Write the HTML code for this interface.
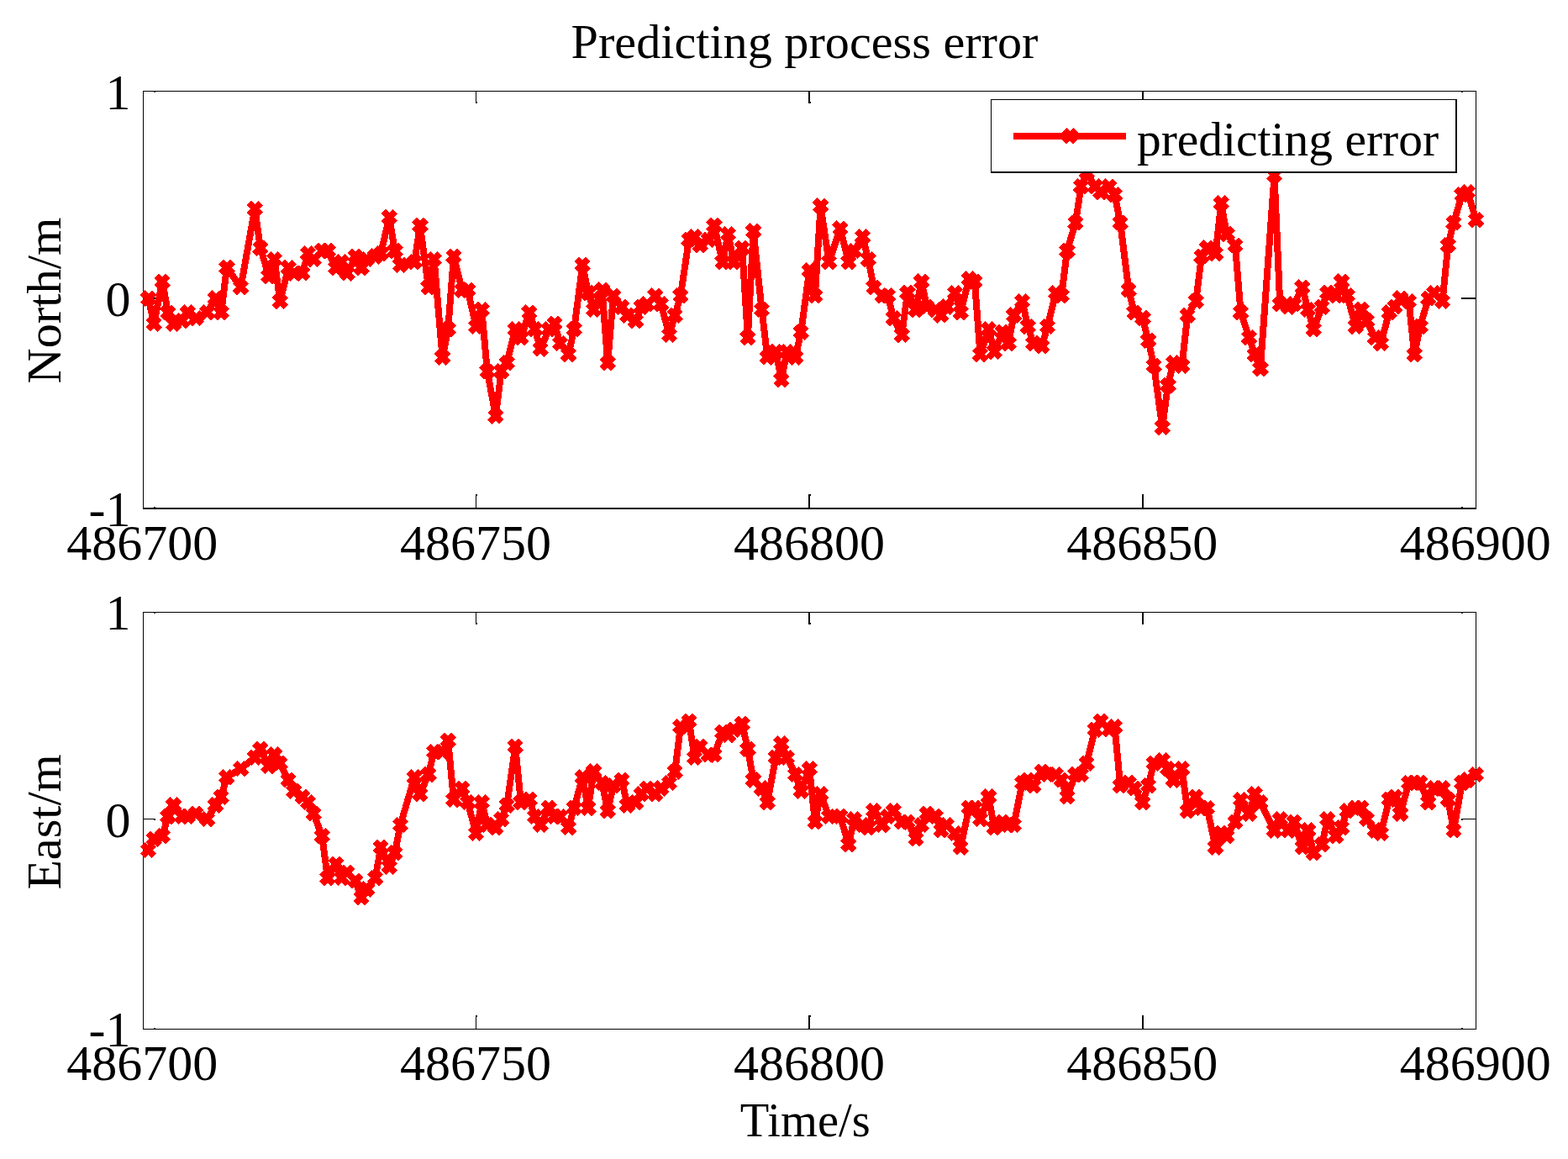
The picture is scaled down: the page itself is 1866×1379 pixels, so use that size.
<!DOCTYPE html>
<html lang="en">
<head>
<meta charset="utf-8">
<title>Predicting process error</title>
<style>
html,body{margin:0;padding:0;background:#fff;}
body{width:1866px;height:1379px;overflow:hidden;}
svg{display:block;}
text{font-family:"Liberation Serif",serif;fill:#000;}
.ax rect{fill:#000;}
.ln{fill:none;stroke:#f00;stroke-width:8;stroke-linejoin:round;stroke-linecap:butt;shape-rendering:crispEdges;}
.mk{fill:none;stroke:#f00;stroke-width:8;stroke-linecap:butt;shape-rendering:crispEdges;}
.lg rect{fill:#000;}
</style>
</head>
<body>
<svg width="1866" height="1379" viewBox="0 0 1866 1379" role="img" aria-label="Predicting process error: North and East error versus time">
<rect x="0" y="0" width="1866" height="1379" fill="#fff"/>

<text font-size="58" textLength="555.85" lengthAdjust="spacingAndGlyphs" x="679.6" y="69">Predicting process error</text>
<g id="axes-north">
<g class="ax" shape-rendering="crispEdges">
<rect x="170" y="108" width="1587" height="1"/>
<rect x="170" y="604" width="1587" height="2"/>
<rect x="170" y="108" width="1" height="498"/>
<rect x="1756" y="108" width="1" height="498"/>
<rect x="566" y="588" width="1" height="16"/>
<rect x="566" y="588" width="2" height="2"/>
<rect x="566" y="109" width="1" height="14"/>
<rect x="566" y="121" width="2" height="2"/>
<rect x="962" y="588" width="2" height="16"/>
<rect x="962" y="588" width="3" height="2"/>
<rect x="962" y="109" width="2" height="14"/>
<rect x="962" y="121" width="3" height="2"/>
<rect x="1359" y="588" width="2" height="16"/>
<rect x="1359" y="588" width="2" height="2"/>
<rect x="1359" y="109" width="2" height="14"/>
<rect x="1359" y="121" width="2" height="2"/>
<rect x="171" y="354" width="14" height="2"/>
<rect x="183" y="354" width="2" height="2"/>
<rect x="1739" y="354" width="17" height="2"/>
<rect x="1739" y="354" width="2" height="2"/>
<rect x="183" y="109" width="2" height="1"/>
<rect x="183" y="603" width="2" height="1"/>
<rect x="1739" y="109" width="2" height="1"/>
<rect x="1739" y="603" width="2" height="1"/>
</g>
<text font-size="60" text-anchor="middle" x="169.2" y="666">486700</text>
<text font-size="60" text-anchor="middle" x="566.1" y="666">486750</text>
<text font-size="60" text-anchor="middle" x="963.1" y="666">486800</text>
<text font-size="60" text-anchor="middle" x="1359.2" y="666">486850</text>
<text font-size="60" text-anchor="middle" x="1755.7" y="666">486900</text>
<text font-size="60" text-anchor="end" x="155.5" y="130">1</text>
<text font-size="60" text-anchor="end" x="155.5" y="376">0</text>
<text font-size="60" text-anchor="end" x="155.5" y="626">-1</text>
<text font-size="58" textLength="197.9" lengthAdjust="spacingAndGlyphs" transform="translate(72 456.5) rotate(-90)">North/m</text>
<g id="series-north"><path class="ln" d="M176.55 355.13 L183.22 385.13 L193.22 335.13 L199.89 371.8 L206.55 385.13 L216.55 381.8 L223.22 371.8 L233.22 378.47 L246.55 371.8 L256.55 355.13 L263.22 371.8 L269.89 318.47 L286.55 341.8 L303.22 248.47 L309.89 295.13 L319.89 328.47 L326.55 308.47 L333.22 358.47 L343.22 318.47 L349.89 325.13 L359.89 325.13 L366.55 301.8 L373.22 308.47 L383.22 298.47 L389.89 298.47 L399.89 318.47 L406.55 311.8 L413.22 325.13 L423.22 305.13 L429.89 318.47 L436.55 308.47 L446.55 305.13 L453.22 301.8 L463.22 258.47 L469.89 298.47 L476.55 315.13 L493.22 311.8 L499.89 268.47 L509.89 341.8 L516.55 308.47 L526.55 425.13 L533.22 391.8 L539.89 305.13 L549.89 345.13 L556.55 345.13 L566.55 388.47 L573.22 368.47 L579.89 441.8 L589.89 495.13 L596.55 441.8 L603.22 431.8 L613.22 391.8 L619.89 401.8 L629.89 371.8 L636.55 391.8 L643.22 415.13 L653.22 391.8 L659.89 385.13 L666.55 408.47 L676.55 421.8 L683.22 391.8 L693.22 315.13 L699.89 348.47 L706.55 368.47 L716.55 345.13 L723.22 431.8 L729.89 351.8 L739.89 365.13 L746.55 375.13 L756.55 381.8 L763.22 365.13 L769.89 361.8 L779.89 351.8 L786.55 361.8 L796.55 398.47 L803.22 375.13 L809.89 351.8 L819.89 285.13 L826.55 281.8 L833.22 291.8 L843.22 285.13 L849.89 268.47 L859.89 311.8 L866.55 278.47 L873.22 311.8 L883.22 295.13 L889.89 401.8 L896.55 275.13 L906.55 368.47 L913.22 425.13 L923.22 418.47 L929.89 451.8 L936.55 418.47 L946.55 425.13 L953.22 395.13 L963.22 321.8 L969.89 351.8 L976.55 245.13 L986.55 311.8 L999.89 271.8 L1009.89 311.8 L1016.55 298.47 L1026.55 281.8 L1033.22 308.47 L1039.89 341.8 L1049.89 351.8 L1056.55 351.8 L1063.22 378.47 L1073.22 398.47 L1079.89 348.47 L1089.89 368.47 L1096.55 335.13 L1103.22 365.13 L1113.22 368.47 L1119.89 375.13 L1126.55 365.13 L1136.55 348.47 L1143.22 371.8 L1153.22 331.8 L1159.89 335.13 L1166.55 421.8 L1176.55 391.8 L1183.22 418.47 L1193.22 395.13 L1199.89 408.47 L1206.55 375.13 L1216.55 358.47 L1223.22 388.47 L1229.89 408.47 L1239.89 411.8 L1246.55 388.47 L1256.55 348.47 L1263.22 351.8 L1269.89 298.47 L1279.89 265.13 L1286.55 221.8 L1293.22 205.1 L1303.22 221.8 L1309.89 228.47 L1319.89 221.8 L1326.55 231.8 L1333.22 265.13 L1343.22 345.13 L1349.89 371.8 L1359.89 378.47 L1366.55 405.13 L1373.22 435.13 L1383.22 508.47 L1389.89 458.47 L1396.55 431.8 L1406.55 435.13 L1413.22 375.13 L1423.22 358.47 L1429.89 305.13 L1436.55 295.13 L1446.55 301.8 L1453.22 241.8 L1459.89 278.47 L1469.89 291.8 L1476.55 371.8 L1486.55 401.8 L1493.22 421.8 L1499.89 438.47 L1516.55 208.47 L1523.22 361.8 L1533.22 365.13 L1539.89 361.8 L1549.89 341.8 L1556.55 368.47 L1563.22 391.8 L1573.22 365.13 L1579.89 348.47 L1589.89 351.8 L1596.55 335.13 L1603.22 351.8 L1613.22 388.47 L1619.89 368.47 L1626.55 381.8 L1636.55 401.8 L1643.22 408.47 L1653.22 371.8 L1659.89 365.13 L1666.55 355.13 L1676.55 358.47 L1683.22 421.8 L1689.89 388.47 L1699.89 355.13 L1706.55 348.47 L1716.55 358.47 L1723.22 291.8 L1729.89 265.13 L1739.89 231.8 L1746.55 228.47 L1756.55 261.8"/>
<path class="mk" d="M169.65 348.23l13.8 13.8M169.65 362.03l13.8 -13.8M176.32 378.23l13.8 13.8M176.32 392.03l13.8 -13.8M186.32 328.23l13.8 13.8M186.32 342.03l13.8 -13.8M192.99 364.9l13.8 13.8M192.99 378.7l13.8 -13.8M199.65 378.23l13.8 13.8M199.65 392.03l13.8 -13.8M209.65 374.9l13.8 13.8M209.65 388.7l13.8 -13.8M216.32 364.9l13.8 13.8M216.32 378.7l13.8 -13.8M226.32 371.57l13.8 13.8M226.32 385.37l13.8 -13.8M239.65 364.9l13.8 13.8M239.65 378.7l13.8 -13.8M249.65 348.23l13.8 13.8M249.65 362.03l13.8 -13.8M256.32 364.9l13.8 13.8M256.32 378.7l13.8 -13.8M262.99 311.57l13.8 13.8M262.99 325.37l13.8 -13.8M279.65 334.9l13.8 13.8M279.65 348.7l13.8 -13.8M296.32 241.57l13.8 13.8M296.32 255.37l13.8 -13.8M302.99 288.23l13.8 13.8M302.99 302.03l13.8 -13.8M312.99 321.57l13.8 13.8M312.99 335.37l13.8 -13.8M319.65 301.57l13.8 13.8M319.65 315.37l13.8 -13.8M326.32 351.57l13.8 13.8M326.32 365.37l13.8 -13.8M336.32 311.57l13.8 13.8M336.32 325.37l13.8 -13.8M342.99 318.23l13.8 13.8M342.99 332.03l13.8 -13.8M352.99 318.23l13.8 13.8M352.99 332.03l13.8 -13.8M359.65 294.9l13.8 13.8M359.65 308.7l13.8 -13.8M366.32 301.57l13.8 13.8M366.32 315.37l13.8 -13.8M376.32 291.57l13.8 13.8M376.32 305.37l13.8 -13.8M382.99 291.57l13.8 13.8M382.99 305.37l13.8 -13.8M392.99 311.57l13.8 13.8M392.99 325.37l13.8 -13.8M399.65 304.9l13.8 13.8M399.65 318.7l13.8 -13.8M406.32 318.23l13.8 13.8M406.32 332.03l13.8 -13.8M416.32 298.23l13.8 13.8M416.32 312.03l13.8 -13.8M422.99 311.57l13.8 13.8M422.99 325.37l13.8 -13.8M429.65 301.57l13.8 13.8M429.65 315.37l13.8 -13.8M439.65 298.23l13.8 13.8M439.65 312.03l13.8 -13.8M446.32 294.9l13.8 13.8M446.32 308.7l13.8 -13.8M456.32 251.57l13.8 13.8M456.32 265.37l13.8 -13.8M462.99 291.57l13.8 13.8M462.99 305.37l13.8 -13.8M469.65 308.23l13.8 13.8M469.65 322.03l13.8 -13.8M486.32 304.9l13.8 13.8M486.32 318.7l13.8 -13.8M492.99 261.57l13.8 13.8M492.99 275.37l13.8 -13.8M502.99 334.9l13.8 13.8M502.99 348.7l13.8 -13.8M509.65 301.57l13.8 13.8M509.65 315.37l13.8 -13.8M519.65 418.23l13.8 13.8M519.65 432.03l13.8 -13.8M526.32 384.9l13.8 13.8M526.32 398.7l13.8 -13.8M532.99 298.23l13.8 13.8M532.99 312.03l13.8 -13.8M542.99 338.23l13.8 13.8M542.99 352.03l13.8 -13.8M549.65 338.23l13.8 13.8M549.65 352.03l13.8 -13.8M559.65 381.57l13.8 13.8M559.65 395.37l13.8 -13.8M566.32 361.57l13.8 13.8M566.32 375.37l13.8 -13.8M572.99 434.9l13.8 13.8M572.99 448.7l13.8 -13.8M582.99 488.23l13.8 13.8M582.99 502.03l13.8 -13.8M589.65 434.9l13.8 13.8M589.65 448.7l13.8 -13.8M596.32 424.9l13.8 13.8M596.32 438.7l13.8 -13.8M606.32 384.9l13.8 13.8M606.32 398.7l13.8 -13.8M612.99 394.9l13.8 13.8M612.99 408.7l13.8 -13.8M622.99 364.9l13.8 13.8M622.99 378.7l13.8 -13.8M629.65 384.9l13.8 13.8M629.65 398.7l13.8 -13.8M636.32 408.23l13.8 13.8M636.32 422.03l13.8 -13.8M646.32 384.9l13.8 13.8M646.32 398.7l13.8 -13.8M652.99 378.23l13.8 13.8M652.99 392.03l13.8 -13.8M659.65 401.57l13.8 13.8M659.65 415.37l13.8 -13.8M669.65 414.9l13.8 13.8M669.65 428.7l13.8 -13.8M676.32 384.9l13.8 13.8M676.32 398.7l13.8 -13.8M686.32 308.23l13.8 13.8M686.32 322.03l13.8 -13.8M692.99 341.57l13.8 13.8M692.99 355.37l13.8 -13.8M699.65 361.57l13.8 13.8M699.65 375.37l13.8 -13.8M709.65 338.23l13.8 13.8M709.65 352.03l13.8 -13.8M716.32 424.9l13.8 13.8M716.32 438.7l13.8 -13.8M722.99 344.9l13.8 13.8M722.99 358.7l13.8 -13.8M732.99 358.23l13.8 13.8M732.99 372.03l13.8 -13.8M739.65 368.23l13.8 13.8M739.65 382.03l13.8 -13.8M749.65 374.9l13.8 13.8M749.65 388.7l13.8 -13.8M756.32 358.23l13.8 13.8M756.32 372.03l13.8 -13.8M762.99 354.9l13.8 13.8M762.99 368.7l13.8 -13.8M772.99 344.9l13.8 13.8M772.99 358.7l13.8 -13.8M779.65 354.9l13.8 13.8M779.65 368.7l13.8 -13.8M789.65 391.57l13.8 13.8M789.65 405.37l13.8 -13.8M796.32 368.23l13.8 13.8M796.32 382.03l13.8 -13.8M802.99 344.9l13.8 13.8M802.99 358.7l13.8 -13.8M812.99 278.23l13.8 13.8M812.99 292.03l13.8 -13.8M819.65 274.9l13.8 13.8M819.65 288.7l13.8 -13.8M826.32 284.9l13.8 13.8M826.32 298.7l13.8 -13.8M836.32 278.23l13.8 13.8M836.32 292.03l13.8 -13.8M842.99 261.57l13.8 13.8M842.99 275.37l13.8 -13.8M852.99 304.9l13.8 13.8M852.99 318.7l13.8 -13.8M859.65 271.57l13.8 13.8M859.65 285.37l13.8 -13.8M866.32 304.9l13.8 13.8M866.32 318.7l13.8 -13.8M876.32 288.23l13.8 13.8M876.32 302.03l13.8 -13.8M882.99 394.9l13.8 13.8M882.99 408.7l13.8 -13.8M889.65 268.23l13.8 13.8M889.65 282.03l13.8 -13.8M899.65 361.57l13.8 13.8M899.65 375.37l13.8 -13.8M906.32 418.23l13.8 13.8M906.32 432.03l13.8 -13.8M916.32 411.57l13.8 13.8M916.32 425.37l13.8 -13.8M922.99 444.9l13.8 13.8M922.99 458.7l13.8 -13.8M929.65 411.57l13.8 13.8M929.65 425.37l13.8 -13.8M939.65 418.23l13.8 13.8M939.65 432.03l13.8 -13.8M946.32 388.23l13.8 13.8M946.32 402.03l13.8 -13.8M956.32 314.9l13.8 13.8M956.32 328.7l13.8 -13.8M962.99 344.9l13.8 13.8M962.99 358.7l13.8 -13.8M969.65 238.23l13.8 13.8M969.65 252.03l13.8 -13.8M979.65 304.9l13.8 13.8M979.65 318.7l13.8 -13.8M992.99 264.9l13.8 13.8M992.99 278.7l13.8 -13.8M1002.99 304.9l13.8 13.8M1002.99 318.7l13.8 -13.8M1009.65 291.57l13.8 13.8M1009.65 305.37l13.8 -13.8M1019.65 274.9l13.8 13.8M1019.65 288.7l13.8 -13.8M1026.32 301.57l13.8 13.8M1026.32 315.37l13.8 -13.8M1032.99 334.9l13.8 13.8M1032.99 348.7l13.8 -13.8M1042.99 344.9l13.8 13.8M1042.99 358.7l13.8 -13.8M1049.65 344.9l13.8 13.8M1049.65 358.7l13.8 -13.8M1056.32 371.57l13.8 13.8M1056.32 385.37l13.8 -13.8M1066.32 391.57l13.8 13.8M1066.32 405.37l13.8 -13.8M1072.99 341.57l13.8 13.8M1072.99 355.37l13.8 -13.8M1082.99 361.57l13.8 13.8M1082.99 375.37l13.8 -13.8M1089.65 328.23l13.8 13.8M1089.65 342.03l13.8 -13.8M1096.32 358.23l13.8 13.8M1096.32 372.03l13.8 -13.8M1106.32 361.57l13.8 13.8M1106.32 375.37l13.8 -13.8M1112.99 368.23l13.8 13.8M1112.99 382.03l13.8 -13.8M1119.65 358.23l13.8 13.8M1119.65 372.03l13.8 -13.8M1129.65 341.57l13.8 13.8M1129.65 355.37l13.8 -13.8M1136.32 364.9l13.8 13.8M1136.32 378.7l13.8 -13.8M1146.32 324.9l13.8 13.8M1146.32 338.7l13.8 -13.8M1152.99 328.23l13.8 13.8M1152.99 342.03l13.8 -13.8M1159.65 414.9l13.8 13.8M1159.65 428.7l13.8 -13.8M1169.65 384.9l13.8 13.8M1169.65 398.7l13.8 -13.8M1176.32 411.57l13.8 13.8M1176.32 425.37l13.8 -13.8M1186.32 388.23l13.8 13.8M1186.32 402.03l13.8 -13.8M1192.99 401.57l13.8 13.8M1192.99 415.37l13.8 -13.8M1199.65 368.23l13.8 13.8M1199.65 382.03l13.8 -13.8M1209.65 351.57l13.8 13.8M1209.65 365.37l13.8 -13.8M1216.32 381.57l13.8 13.8M1216.32 395.37l13.8 -13.8M1222.99 401.57l13.8 13.8M1222.99 415.37l13.8 -13.8M1232.99 404.9l13.8 13.8M1232.99 418.7l13.8 -13.8M1239.65 381.57l13.8 13.8M1239.65 395.37l13.8 -13.8M1249.65 341.57l13.8 13.8M1249.65 355.37l13.8 -13.8M1256.32 344.9l13.8 13.8M1256.32 358.7l13.8 -13.8M1262.99 291.57l13.8 13.8M1262.99 305.37l13.8 -13.8M1272.99 258.23l13.8 13.8M1272.99 272.03l13.8 -13.8M1279.65 214.9l13.8 13.8M1279.65 228.7l13.8 -13.8M1286.32 198.2l13.8 13.8M1286.32 212l13.8 -13.8M1296.32 214.9l13.8 13.8M1296.32 228.7l13.8 -13.8M1302.99 221.57l13.8 13.8M1302.99 235.37l13.8 -13.8M1312.99 214.9l13.8 13.8M1312.99 228.7l13.8 -13.8M1319.65 224.9l13.8 13.8M1319.65 238.7l13.8 -13.8M1326.32 258.23l13.8 13.8M1326.32 272.03l13.8 -13.8M1336.32 338.23l13.8 13.8M1336.32 352.03l13.8 -13.8M1342.99 364.9l13.8 13.8M1342.99 378.7l13.8 -13.8M1352.99 371.57l13.8 13.8M1352.99 385.37l13.8 -13.8M1359.65 398.23l13.8 13.8M1359.65 412.03l13.8 -13.8M1366.32 428.23l13.8 13.8M1366.32 442.03l13.8 -13.8M1376.32 501.57l13.8 13.8M1376.32 515.37l13.8 -13.8M1382.99 451.57l13.8 13.8M1382.99 465.37l13.8 -13.8M1389.65 424.9l13.8 13.8M1389.65 438.7l13.8 -13.8M1399.65 428.23l13.8 13.8M1399.65 442.03l13.8 -13.8M1406.32 368.23l13.8 13.8M1406.32 382.03l13.8 -13.8M1416.32 351.57l13.8 13.8M1416.32 365.37l13.8 -13.8M1422.99 298.23l13.8 13.8M1422.99 312.03l13.8 -13.8M1429.65 288.23l13.8 13.8M1429.65 302.03l13.8 -13.8M1439.65 294.9l13.8 13.8M1439.65 308.7l13.8 -13.8M1446.32 234.9l13.8 13.8M1446.32 248.7l13.8 -13.8M1452.99 271.57l13.8 13.8M1452.99 285.37l13.8 -13.8M1462.99 284.9l13.8 13.8M1462.99 298.7l13.8 -13.8M1469.65 364.9l13.8 13.8M1469.65 378.7l13.8 -13.8M1479.65 394.9l13.8 13.8M1479.65 408.7l13.8 -13.8M1486.32 414.9l13.8 13.8M1486.32 428.7l13.8 -13.8M1492.99 431.57l13.8 13.8M1492.99 445.37l13.8 -13.8M1509.65 201.57l13.8 13.8M1509.65 215.37l13.8 -13.8M1516.32 354.9l13.8 13.8M1516.32 368.7l13.8 -13.8M1526.32 358.23l13.8 13.8M1526.32 372.03l13.8 -13.8M1532.99 354.9l13.8 13.8M1532.99 368.7l13.8 -13.8M1542.99 334.9l13.8 13.8M1542.99 348.7l13.8 -13.8M1549.65 361.57l13.8 13.8M1549.65 375.37l13.8 -13.8M1556.32 384.9l13.8 13.8M1556.32 398.7l13.8 -13.8M1566.32 358.23l13.8 13.8M1566.32 372.03l13.8 -13.8M1572.99 341.57l13.8 13.8M1572.99 355.37l13.8 -13.8M1582.99 344.9l13.8 13.8M1582.99 358.7l13.8 -13.8M1589.65 328.23l13.8 13.8M1589.65 342.03l13.8 -13.8M1596.32 344.9l13.8 13.8M1596.32 358.7l13.8 -13.8M1606.32 381.57l13.8 13.8M1606.32 395.37l13.8 -13.8M1612.99 361.57l13.8 13.8M1612.99 375.37l13.8 -13.8M1619.65 374.9l13.8 13.8M1619.65 388.7l13.8 -13.8M1629.65 394.9l13.8 13.8M1629.65 408.7l13.8 -13.8M1636.32 401.57l13.8 13.8M1636.32 415.37l13.8 -13.8M1646.32 364.9l13.8 13.8M1646.32 378.7l13.8 -13.8M1652.99 358.23l13.8 13.8M1652.99 372.03l13.8 -13.8M1659.65 348.23l13.8 13.8M1659.65 362.03l13.8 -13.8M1669.65 351.57l13.8 13.8M1669.65 365.37l13.8 -13.8M1676.32 414.9l13.8 13.8M1676.32 428.7l13.8 -13.8M1682.99 381.57l13.8 13.8M1682.99 395.37l13.8 -13.8M1692.99 348.23l13.8 13.8M1692.99 362.03l13.8 -13.8M1699.65 341.57l13.8 13.8M1699.65 355.37l13.8 -13.8M1709.65 351.57l13.8 13.8M1709.65 365.37l13.8 -13.8M1716.32 284.9l13.8 13.8M1716.32 298.7l13.8 -13.8M1722.99 258.23l13.8 13.8M1722.99 272.03l13.8 -13.8M1732.99 224.9l13.8 13.8M1732.99 238.7l13.8 -13.8M1739.65 221.57l13.8 13.8M1739.65 235.37l13.8 -13.8M1749.65 254.9l13.8 13.8M1749.65 268.7l13.8 -13.8"/></g>
</g>
<g id="legend">
<rect x="1179" y="118" width="555" height="88" fill="#fff"/>
<g class="lg" shape-rendering="crispEdges"><rect x="1179" y="118" width="555" height="1"/><rect x="1179" y="118" width="1" height="88"/><rect x="1179" y="204" width="555" height="2"/><rect x="1732" y="118" width="2" height="88"/></g>
<path class="ln" d="M1206 162H1340"/>
<path class="mk" d="M1266.3 154.9l13.8 13.8M1266.3 168.7l13.8 -13.8"/>
<text font-size="58" textLength="359.3" lengthAdjust="spacingAndGlyphs" x="1352.9" y="185.4">predicting error</text>
</g>
<g id="axes-east">
<g class="ax" shape-rendering="crispEdges">
<rect x="170" y="728" width="1587" height="1"/>
<rect x="170" y="1224" width="1587" height="1"/>
<rect x="170" y="728" width="1" height="497"/>
<rect x="1756" y="728" width="1" height="497"/>
<rect x="566" y="1208" width="1" height="16"/>
<rect x="566" y="1208" width="2" height="2"/>
<rect x="566" y="729" width="1" height="14"/>
<rect x="566" y="741" width="2" height="2"/>
<rect x="962" y="1208" width="2" height="16"/>
<rect x="962" y="1208" width="3" height="2"/>
<rect x="962" y="729" width="2" height="14"/>
<rect x="962" y="741" width="3" height="2"/>
<rect x="1359" y="1208" width="2" height="16"/>
<rect x="1359" y="1208" width="2" height="2"/>
<rect x="1359" y="729" width="2" height="14"/>
<rect x="1359" y="741" width="2" height="2"/>
<rect x="171" y="974" width="14" height="1"/>
<rect x="183" y="974" width="2" height="2"/>
<rect x="1739" y="974" width="17" height="1"/>
<rect x="1739" y="974" width="2" height="2"/>
<rect x="183" y="729" width="2" height="1"/>
<rect x="183" y="1223" width="2" height="1"/>
<rect x="1739" y="729" width="2" height="1"/>
<rect x="1739" y="1223" width="2" height="1"/>
</g>
<text font-size="60" text-anchor="middle" x="169.2" y="1285">486700</text>
<text font-size="60" text-anchor="middle" x="566.1" y="1285">486750</text>
<text font-size="60" text-anchor="middle" x="963.1" y="1285">486800</text>
<text font-size="60" text-anchor="middle" x="1359.2" y="1285">486850</text>
<text font-size="60" text-anchor="middle" x="1755.7" y="1285">486900</text>
<text font-size="60" text-anchor="end" x="155.5" y="749">1</text>
<text font-size="60" text-anchor="end" x="155.5" y="996">0</text>
<text font-size="60" text-anchor="end" x="155.5" y="1245">-1</text>
<text font-size="58" textLength="161.3" lengthAdjust="spacingAndGlyphs" transform="translate(72 1058.6) rotate(-90)">East/m</text>
<g id="series-east"><path class="ln" d="M176.55 1011.4 L183.22 998.07 L193.22 994.73 L199.89 971.4 L206.55 958.07 L216.55 971.4 L223.22 971.4 L233.22 968.07 L246.55 974.73 L256.55 958.07 L263.22 948.07 L269.89 924.73 L286.55 914.73 L303.22 901.4 L309.89 891.4 L319.89 911.4 L326.55 898.07 L333.22 908.07 L343.22 928.07 L349.89 941.4 L359.89 948.07 L366.55 954.73 L373.22 968.07 L383.22 994.73 L389.89 1044.73 L399.89 1028.07 L406.55 1044.73 L413.22 1038.07 L423.22 1048.07 L429.89 1068.07 L436.55 1058.07 L446.55 1044.73 L453.22 1008.07 L463.22 1031.4 L469.89 1014.73 L476.55 981.4 L493.22 924.73 L499.89 944.73 L509.89 921.4 L516.55 894.73 L526.55 894.73 L533.22 881.4 L539.89 951.4 L549.89 938.07 L556.55 954.73 L566.55 991.4 L573.22 954.73 L579.89 981.4 L589.89 984.73 L596.55 974.73 L603.22 958.07 L613.22 888.07 L619.89 954.73 L629.89 951.4 L636.55 971.4 L643.22 981.4 L653.22 961.4 L659.89 971.4 L666.55 971.4 L676.55 984.73 L683.22 961.4 L693.22 924.73 L699.89 961.4 L706.55 918.07 L716.55 931.4 L723.22 964.73 L729.89 934.73 L739.89 928.07 L746.55 958.07 L756.55 954.73 L763.22 944.73 L769.89 938.07 L779.89 944.73 L786.55 938.07 L796.55 931.4 L803.22 918.07 L809.89 864.73 L819.89 858.07 L826.55 901.4 L833.22 888.07 L843.22 898.07 L849.89 898.07 L859.89 871.4 L866.55 874.73 L873.22 868.07 L883.22 861.4 L889.89 891.4 L896.55 928.07 L906.55 938.07 L913.22 954.73 L923.22 901.4 L929.89 884.73 L936.55 901.4 L946.55 921.4 L953.22 941.4 L963.22 914.73 L969.89 978.07 L976.55 944.73 L986.55 971.4 L999.89 971.4 L1009.89 1004.73 L1016.55 974.73 L1026.55 981.4 L1033.22 984.73 L1039.89 964.73 L1049.89 981.4 L1056.55 971.4 L1063.22 964.73 L1073.22 978.07 L1079.89 978.07 L1089.89 998.07 L1096.55 981.4 L1103.22 968.07 L1113.22 971.4 L1119.89 988.07 L1126.55 981.4 L1136.55 991.4 L1143.22 1008.07 L1153.22 961.4 L1159.89 961.4 L1166.55 974.73 L1176.55 948.07 L1183.22 984.73 L1193.22 978.07 L1199.89 981.4 L1206.55 981.4 L1216.55 931.4 L1223.22 928.07 L1229.89 934.73 L1239.89 918.07 L1246.55 921.4 L1256.55 921.4 L1263.22 928.07 L1269.89 948.07 L1279.89 921.4 L1286.55 921.4 L1293.22 908.07 L1303.22 868.07 L1309.89 858.07 L1319.89 868.07 L1326.55 864.73 L1333.22 934.73 L1343.22 931.4 L1349.89 938.07 L1359.89 954.73 L1366.55 934.73 L1373.22 908.07 L1383.22 904.73 L1389.89 914.73 L1396.55 928.07 L1406.55 914.73 L1413.22 964.73 L1423.22 948.07 L1429.89 961.4 L1436.55 961.4 L1446.55 1008.07 L1453.22 991.4 L1459.89 994.73 L1469.89 978.07 L1476.55 951.4 L1486.55 968.07 L1493.22 944.73 L1499.89 954.73 L1516.55 988.07 L1523.22 974.73 L1533.22 988.07 L1539.89 978.07 L1549.89 1008.07 L1556.55 988.07 L1563.22 1014.73 L1573.22 1004.73 L1579.89 974.73 L1589.89 994.73 L1596.55 984.73 L1603.22 964.73 L1613.22 961.4 L1619.89 961.4 L1626.55 974.73 L1636.55 988.07 L1643.22 991.4 L1653.22 951.4 L1659.89 948.07 L1666.55 968.07 L1676.55 931.4 L1683.22 931.4 L1689.89 931.4 L1699.89 954.73 L1706.55 938.07 L1716.55 938.07 L1723.22 951.4 L1729.89 988.07 L1739.89 931.4 L1746.55 928.07 L1756.55 921.4"/>
<path class="mk" d="M169.65 1004.5l13.8 13.8M169.65 1018.3l13.8 -13.8M176.32 991.17l13.8 13.8M176.32 1004.97l13.8 -13.8M186.32 987.83l13.8 13.8M186.32 1001.63l13.8 -13.8M192.99 964.5l13.8 13.8M192.99 978.3l13.8 -13.8M199.65 951.17l13.8 13.8M199.65 964.97l13.8 -13.8M209.65 964.5l13.8 13.8M209.65 978.3l13.8 -13.8M216.32 964.5l13.8 13.8M216.32 978.3l13.8 -13.8M226.32 961.17l13.8 13.8M226.32 974.97l13.8 -13.8M239.65 967.83l13.8 13.8M239.65 981.63l13.8 -13.8M249.65 951.17l13.8 13.8M249.65 964.97l13.8 -13.8M256.32 941.17l13.8 13.8M256.32 954.97l13.8 -13.8M262.99 917.83l13.8 13.8M262.99 931.63l13.8 -13.8M279.65 907.83l13.8 13.8M279.65 921.63l13.8 -13.8M296.32 894.5l13.8 13.8M296.32 908.3l13.8 -13.8M302.99 884.5l13.8 13.8M302.99 898.3l13.8 -13.8M312.99 904.5l13.8 13.8M312.99 918.3l13.8 -13.8M319.65 891.17l13.8 13.8M319.65 904.97l13.8 -13.8M326.32 901.17l13.8 13.8M326.32 914.97l13.8 -13.8M336.32 921.17l13.8 13.8M336.32 934.97l13.8 -13.8M342.99 934.5l13.8 13.8M342.99 948.3l13.8 -13.8M352.99 941.17l13.8 13.8M352.99 954.97l13.8 -13.8M359.65 947.83l13.8 13.8M359.65 961.63l13.8 -13.8M366.32 961.17l13.8 13.8M366.32 974.97l13.8 -13.8M376.32 987.83l13.8 13.8M376.32 1001.63l13.8 -13.8M382.99 1037.83l13.8 13.8M382.99 1051.63l13.8 -13.8M392.99 1021.17l13.8 13.8M392.99 1034.97l13.8 -13.8M399.65 1037.83l13.8 13.8M399.65 1051.63l13.8 -13.8M406.32 1031.17l13.8 13.8M406.32 1044.97l13.8 -13.8M416.32 1041.17l13.8 13.8M416.32 1054.97l13.8 -13.8M422.99 1061.17l13.8 13.8M422.99 1074.97l13.8 -13.8M429.65 1051.17l13.8 13.8M429.65 1064.97l13.8 -13.8M439.65 1037.83l13.8 13.8M439.65 1051.63l13.8 -13.8M446.32 1001.17l13.8 13.8M446.32 1014.97l13.8 -13.8M456.32 1024.5l13.8 13.8M456.32 1038.3l13.8 -13.8M462.99 1007.83l13.8 13.8M462.99 1021.63l13.8 -13.8M469.65 974.5l13.8 13.8M469.65 988.3l13.8 -13.8M486.32 917.83l13.8 13.8M486.32 931.63l13.8 -13.8M492.99 937.83l13.8 13.8M492.99 951.63l13.8 -13.8M502.99 914.5l13.8 13.8M502.99 928.3l13.8 -13.8M509.65 887.83l13.8 13.8M509.65 901.63l13.8 -13.8M519.65 887.83l13.8 13.8M519.65 901.63l13.8 -13.8M526.32 874.5l13.8 13.8M526.32 888.3l13.8 -13.8M532.99 944.5l13.8 13.8M532.99 958.3l13.8 -13.8M542.99 931.17l13.8 13.8M542.99 944.97l13.8 -13.8M549.65 947.83l13.8 13.8M549.65 961.63l13.8 -13.8M559.65 984.5l13.8 13.8M559.65 998.3l13.8 -13.8M566.32 947.83l13.8 13.8M566.32 961.63l13.8 -13.8M572.99 974.5l13.8 13.8M572.99 988.3l13.8 -13.8M582.99 977.83l13.8 13.8M582.99 991.63l13.8 -13.8M589.65 967.83l13.8 13.8M589.65 981.63l13.8 -13.8M596.32 951.17l13.8 13.8M596.32 964.97l13.8 -13.8M606.32 881.17l13.8 13.8M606.32 894.97l13.8 -13.8M612.99 947.83l13.8 13.8M612.99 961.63l13.8 -13.8M622.99 944.5l13.8 13.8M622.99 958.3l13.8 -13.8M629.65 964.5l13.8 13.8M629.65 978.3l13.8 -13.8M636.32 974.5l13.8 13.8M636.32 988.3l13.8 -13.8M646.32 954.5l13.8 13.8M646.32 968.3l13.8 -13.8M652.99 964.5l13.8 13.8M652.99 978.3l13.8 -13.8M659.65 964.5l13.8 13.8M659.65 978.3l13.8 -13.8M669.65 977.83l13.8 13.8M669.65 991.63l13.8 -13.8M676.32 954.5l13.8 13.8M676.32 968.3l13.8 -13.8M686.32 917.83l13.8 13.8M686.32 931.63l13.8 -13.8M692.99 954.5l13.8 13.8M692.99 968.3l13.8 -13.8M699.65 911.17l13.8 13.8M699.65 924.97l13.8 -13.8M709.65 924.5l13.8 13.8M709.65 938.3l13.8 -13.8M716.32 957.83l13.8 13.8M716.32 971.63l13.8 -13.8M722.99 927.83l13.8 13.8M722.99 941.63l13.8 -13.8M732.99 921.17l13.8 13.8M732.99 934.97l13.8 -13.8M739.65 951.17l13.8 13.8M739.65 964.97l13.8 -13.8M749.65 947.83l13.8 13.8M749.65 961.63l13.8 -13.8M756.32 937.83l13.8 13.8M756.32 951.63l13.8 -13.8M762.99 931.17l13.8 13.8M762.99 944.97l13.8 -13.8M772.99 937.83l13.8 13.8M772.99 951.63l13.8 -13.8M779.65 931.17l13.8 13.8M779.65 944.97l13.8 -13.8M789.65 924.5l13.8 13.8M789.65 938.3l13.8 -13.8M796.32 911.17l13.8 13.8M796.32 924.97l13.8 -13.8M802.99 857.83l13.8 13.8M802.99 871.63l13.8 -13.8M812.99 851.17l13.8 13.8M812.99 864.97l13.8 -13.8M819.65 894.5l13.8 13.8M819.65 908.3l13.8 -13.8M826.32 881.17l13.8 13.8M826.32 894.97l13.8 -13.8M836.32 891.17l13.8 13.8M836.32 904.97l13.8 -13.8M842.99 891.17l13.8 13.8M842.99 904.97l13.8 -13.8M852.99 864.5l13.8 13.8M852.99 878.3l13.8 -13.8M859.65 867.83l13.8 13.8M859.65 881.63l13.8 -13.8M866.32 861.17l13.8 13.8M866.32 874.97l13.8 -13.8M876.32 854.5l13.8 13.8M876.32 868.3l13.8 -13.8M882.99 884.5l13.8 13.8M882.99 898.3l13.8 -13.8M889.65 921.17l13.8 13.8M889.65 934.97l13.8 -13.8M899.65 931.17l13.8 13.8M899.65 944.97l13.8 -13.8M906.32 947.83l13.8 13.8M906.32 961.63l13.8 -13.8M916.32 894.5l13.8 13.8M916.32 908.3l13.8 -13.8M922.99 877.83l13.8 13.8M922.99 891.63l13.8 -13.8M929.65 894.5l13.8 13.8M929.65 908.3l13.8 -13.8M939.65 914.5l13.8 13.8M939.65 928.3l13.8 -13.8M946.32 934.5l13.8 13.8M946.32 948.3l13.8 -13.8M956.32 907.83l13.8 13.8M956.32 921.63l13.8 -13.8M962.99 971.17l13.8 13.8M962.99 984.97l13.8 -13.8M969.65 937.83l13.8 13.8M969.65 951.63l13.8 -13.8M979.65 964.5l13.8 13.8M979.65 978.3l13.8 -13.8M992.99 964.5l13.8 13.8M992.99 978.3l13.8 -13.8M1002.99 997.83l13.8 13.8M1002.99 1011.63l13.8 -13.8M1009.65 967.83l13.8 13.8M1009.65 981.63l13.8 -13.8M1019.65 974.5l13.8 13.8M1019.65 988.3l13.8 -13.8M1026.32 977.83l13.8 13.8M1026.32 991.63l13.8 -13.8M1032.99 957.83l13.8 13.8M1032.99 971.63l13.8 -13.8M1042.99 974.5l13.8 13.8M1042.99 988.3l13.8 -13.8M1049.65 964.5l13.8 13.8M1049.65 978.3l13.8 -13.8M1056.32 957.83l13.8 13.8M1056.32 971.63l13.8 -13.8M1066.32 971.17l13.8 13.8M1066.32 984.97l13.8 -13.8M1072.99 971.17l13.8 13.8M1072.99 984.97l13.8 -13.8M1082.99 991.17l13.8 13.8M1082.99 1004.97l13.8 -13.8M1089.65 974.5l13.8 13.8M1089.65 988.3l13.8 -13.8M1096.32 961.17l13.8 13.8M1096.32 974.97l13.8 -13.8M1106.32 964.5l13.8 13.8M1106.32 978.3l13.8 -13.8M1112.99 981.17l13.8 13.8M1112.99 994.97l13.8 -13.8M1119.65 974.5l13.8 13.8M1119.65 988.3l13.8 -13.8M1129.65 984.5l13.8 13.8M1129.65 998.3l13.8 -13.8M1136.32 1001.17l13.8 13.8M1136.32 1014.97l13.8 -13.8M1146.32 954.5l13.8 13.8M1146.32 968.3l13.8 -13.8M1152.99 954.5l13.8 13.8M1152.99 968.3l13.8 -13.8M1159.65 967.83l13.8 13.8M1159.65 981.63l13.8 -13.8M1169.65 941.17l13.8 13.8M1169.65 954.97l13.8 -13.8M1176.32 977.83l13.8 13.8M1176.32 991.63l13.8 -13.8M1186.32 971.17l13.8 13.8M1186.32 984.97l13.8 -13.8M1192.99 974.5l13.8 13.8M1192.99 988.3l13.8 -13.8M1199.65 974.5l13.8 13.8M1199.65 988.3l13.8 -13.8M1209.65 924.5l13.8 13.8M1209.65 938.3l13.8 -13.8M1216.32 921.17l13.8 13.8M1216.32 934.97l13.8 -13.8M1222.99 927.83l13.8 13.8M1222.99 941.63l13.8 -13.8M1232.99 911.17l13.8 13.8M1232.99 924.97l13.8 -13.8M1239.65 914.5l13.8 13.8M1239.65 928.3l13.8 -13.8M1249.65 914.5l13.8 13.8M1249.65 928.3l13.8 -13.8M1256.32 921.17l13.8 13.8M1256.32 934.97l13.8 -13.8M1262.99 941.17l13.8 13.8M1262.99 954.97l13.8 -13.8M1272.99 914.5l13.8 13.8M1272.99 928.3l13.8 -13.8M1279.65 914.5l13.8 13.8M1279.65 928.3l13.8 -13.8M1286.32 901.17l13.8 13.8M1286.32 914.97l13.8 -13.8M1296.32 861.17l13.8 13.8M1296.32 874.97l13.8 -13.8M1302.99 851.17l13.8 13.8M1302.99 864.97l13.8 -13.8M1312.99 861.17l13.8 13.8M1312.99 874.97l13.8 -13.8M1319.65 857.83l13.8 13.8M1319.65 871.63l13.8 -13.8M1326.32 927.83l13.8 13.8M1326.32 941.63l13.8 -13.8M1336.32 924.5l13.8 13.8M1336.32 938.3l13.8 -13.8M1342.99 931.17l13.8 13.8M1342.99 944.97l13.8 -13.8M1352.99 947.83l13.8 13.8M1352.99 961.63l13.8 -13.8M1359.65 927.83l13.8 13.8M1359.65 941.63l13.8 -13.8M1366.32 901.17l13.8 13.8M1366.32 914.97l13.8 -13.8M1376.32 897.83l13.8 13.8M1376.32 911.63l13.8 -13.8M1382.99 907.83l13.8 13.8M1382.99 921.63l13.8 -13.8M1389.65 921.17l13.8 13.8M1389.65 934.97l13.8 -13.8M1399.65 907.83l13.8 13.8M1399.65 921.63l13.8 -13.8M1406.32 957.83l13.8 13.8M1406.32 971.63l13.8 -13.8M1416.32 941.17l13.8 13.8M1416.32 954.97l13.8 -13.8M1422.99 954.5l13.8 13.8M1422.99 968.3l13.8 -13.8M1429.65 954.5l13.8 13.8M1429.65 968.3l13.8 -13.8M1439.65 1001.17l13.8 13.8M1439.65 1014.97l13.8 -13.8M1446.32 984.5l13.8 13.8M1446.32 998.3l13.8 -13.8M1452.99 987.83l13.8 13.8M1452.99 1001.63l13.8 -13.8M1462.99 971.17l13.8 13.8M1462.99 984.97l13.8 -13.8M1469.65 944.5l13.8 13.8M1469.65 958.3l13.8 -13.8M1479.65 961.17l13.8 13.8M1479.65 974.97l13.8 -13.8M1486.32 937.83l13.8 13.8M1486.32 951.63l13.8 -13.8M1492.99 947.83l13.8 13.8M1492.99 961.63l13.8 -13.8M1509.65 981.17l13.8 13.8M1509.65 994.97l13.8 -13.8M1516.32 967.83l13.8 13.8M1516.32 981.63l13.8 -13.8M1526.32 981.17l13.8 13.8M1526.32 994.97l13.8 -13.8M1532.99 971.17l13.8 13.8M1532.99 984.97l13.8 -13.8M1542.99 1001.17l13.8 13.8M1542.99 1014.97l13.8 -13.8M1549.65 981.17l13.8 13.8M1549.65 994.97l13.8 -13.8M1556.32 1007.83l13.8 13.8M1556.32 1021.63l13.8 -13.8M1566.32 997.83l13.8 13.8M1566.32 1011.63l13.8 -13.8M1572.99 967.83l13.8 13.8M1572.99 981.63l13.8 -13.8M1582.99 987.83l13.8 13.8M1582.99 1001.63l13.8 -13.8M1589.65 977.83l13.8 13.8M1589.65 991.63l13.8 -13.8M1596.32 957.83l13.8 13.8M1596.32 971.63l13.8 -13.8M1606.32 954.5l13.8 13.8M1606.32 968.3l13.8 -13.8M1612.99 954.5l13.8 13.8M1612.99 968.3l13.8 -13.8M1619.65 967.83l13.8 13.8M1619.65 981.63l13.8 -13.8M1629.65 981.17l13.8 13.8M1629.65 994.97l13.8 -13.8M1636.32 984.5l13.8 13.8M1636.32 998.3l13.8 -13.8M1646.32 944.5l13.8 13.8M1646.32 958.3l13.8 -13.8M1652.99 941.17l13.8 13.8M1652.99 954.97l13.8 -13.8M1659.65 961.17l13.8 13.8M1659.65 974.97l13.8 -13.8M1669.65 924.5l13.8 13.8M1669.65 938.3l13.8 -13.8M1676.32 924.5l13.8 13.8M1676.32 938.3l13.8 -13.8M1682.99 924.5l13.8 13.8M1682.99 938.3l13.8 -13.8M1692.99 947.83l13.8 13.8M1692.99 961.63l13.8 -13.8M1699.65 931.17l13.8 13.8M1699.65 944.97l13.8 -13.8M1709.65 931.17l13.8 13.8M1709.65 944.97l13.8 -13.8M1716.32 944.5l13.8 13.8M1716.32 958.3l13.8 -13.8M1722.99 981.17l13.8 13.8M1722.99 994.97l13.8 -13.8M1732.99 924.5l13.8 13.8M1732.99 938.3l13.8 -13.8M1739.65 921.17l13.8 13.8M1739.65 934.97l13.8 -13.8M1749.65 914.5l13.8 13.8M1749.65 928.3l13.8 -13.8"/></g>
</g>
<text font-size="58" textLength="154.9" lengthAdjust="spacingAndGlyphs" x="880.8" y="1352">Time/s</text>
</svg>
</body>
</html>
